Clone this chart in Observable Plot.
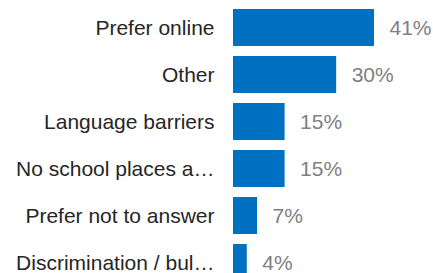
<!DOCTYPE html>
<html>
<head>
<meta charset="utf-8">
<script src="https://cdn.jsdelivr.net/npm/d3@7"></script>
<script src="https://cdn.jsdelivr.net/npm/@observablehq/plot@0.6"></script>
<style>
  html, body { margin: 0; padding: 0; background: #ffffff; overflow: hidden; }
  #chart svg { font-family: "Liberation Sans", Arial, sans-serif; }
</style>
</head>
<body>
<div id="chart"></div>
<script>
const categories = ["Prefer online", "Other", "Language barriers", "No school places a…", "Prefer not to answer", "Discrimination / bul…"];
const values = [41, 30, 15, 15, 7, 4];
const valueLabels = ["41%", "30%", "15%", "15%", "7%", "4%"];

const data = categories.map((c, i) => ({category: c, value: values[i], label: valueLabels[i]}));

const chart = Plot.plot({
  width: 433,
  height: 273,
  marginLeft: 0,
  marginRight: 0,
  marginTop: 0,
  marginBottom: 0,
  style: {background: "#ffffff", overflow: "hidden"},
  x: {domain: [0, 41], range: [233, 374], axis: null},
  y: {domain: categories, range: [4, 286], paddingInner: 0.213, paddingOuter: 0.1065, axis: null},
  marks: [
    Plot.barX(data, {x: "value", y: "category", fill: "#0070C0"}),
    Plot.text(data, {x: 0, y: "category", text: "category", textAnchor: "end", dx: -19, fontSize: 21, fill: "#262626"}),
    Plot.text(data, {x: "value", y: "category", text: "label", textAnchor: "start", dx: 15, fontSize: 21, fill: "#808080"})
  ]
});
document.getElementById("chart").appendChild(chart);
</script>
</body>
</html>
